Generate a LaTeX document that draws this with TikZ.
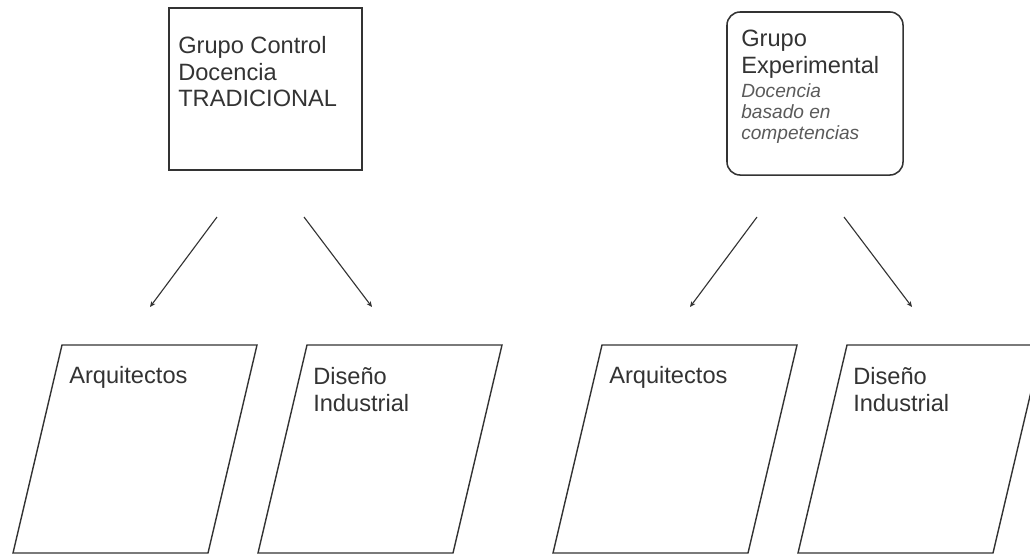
\documentclass[tikz,border=0pt]{standalone}
\usepackage{fontspec}
\setmainfont{Liberation Sans}
\usetikzlibrary{arrows.meta,positioning}
\definecolor{ink}{HTML}{333333}
\definecolor{softink}{HTML}{5A5A5A}
\tikzset{pin/.style={-{Stealth[length=4pt,width=3.5pt]}, draw=ink, line width=0.8pt},
  grp/.style={draw=ink, line width=1.1pt, inner sep=0pt},
  lean/.style={draw=ink, line width=1pt},
  lbl/.style={anchor=north west, inner sep=0pt, align=left, text=ink, font=\fontsize{16.8}{19}\selectfont},
  note/.style={anchor=north west, inner sep=0pt, align=left, text=softink, font=\fontsize{13.6}{15}\selectfont\itshape}}

\begin{document}
\begin{tikzpicture}[x=0.025cm, y=-0.025cm]
  \useasboundingbox (0,0) rectangle (1030,554);
  \clip (0,0) rectangle (1030,554);
  % groups
  \node[grp, minimum width=4.825cm, minimum height=4.05cm] (ctrl) at (265.5,89) {};
  \node[grp, rounded corners=0.33cm, minimum width=4.4cm, minimum height=4.075cm] (exp) at (815,93.5) {};
  \node[lbl] (ctrltxt) at (178,36) {Grupo Control\\Docencia\\TRADICIONAL};
  \node[lbl] (exptxt) at (741,30) {Grupo\\Experimental};
  \node[note] (expnote) at (741,83) {Docencia\\basado en\\competencias};
  % arrows
  \coordinate (c1) at (217,217);  \coordinate (a1) at (150,307);
  \coordinate (c2) at (304,217);  \coordinate (d1) at (372,307);
  \coordinate (e1) at (757,217);  \coordinate (a2) at (690,307);
  \coordinate (e2) at (844,217);  \coordinate (d2) at (912,307);
  \draw[pin] (c1) -- (a1);
  \draw[pin] (c2) -- (d1);
  \draw[pin] (e1) -- (a2);
  \draw[pin] (e2) -- (d2);
  % careers
  \foreach \x in {13,258,553,798}{\draw[lean] (\x,553) -- ++(49,-208) -- ++(195,0) -- ++(-49,208) -- cycle;}
  \node[lbl] (arq1) at (69,366) {Arquitectos};
  \node[lbl] (dis1) at (313,367) {Diseño\\Industrial};
  \node[lbl] (arq2) at (609,366) {Arquitectos};
  \node[lbl] (dis2) at (853,367) {Diseño\\Industrial};
\end{tikzpicture}
\end{document}
